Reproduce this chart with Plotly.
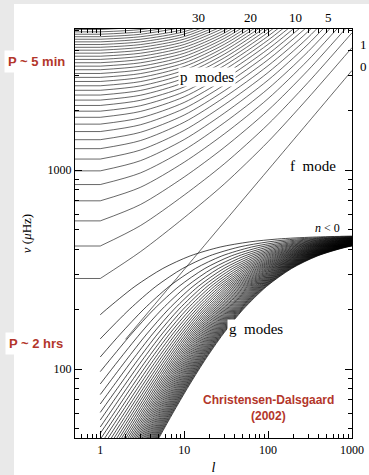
import plotly.graph_objects as go

N = None
# ---------------- data (read/estimated from the reference) ----------------
# p modes: frequency (muHz) at these degrees l (0.5 = left edge, same value as l=1)
P_L = [0.5, 1, 3, 10, 30, 100, 300, 1000]
P_MODES = [
    [285, 285, 388, 576, 850, 1387, 2299, 4118],
    [415, 415, 525, 748, 1073, 1696, 2754, 4889],
    [555, 555, 670, 922, 1298, 1995, 3172, 5577],
    [700, 700, 818, 1094, 1517, 2283, 3566, 6204],
    [845, 845, 966, 1260, 1727, 2560, 3935, 6780],
    [990, 990, 1113, 1422, 1929, 2828, 4291, 7328],
    [1135, 1135, 1259, 1581, 2125, 3089, 4634, 7900],
    [1280, 1280, 1405, 1738, 2316, 3342, 4966, 8400],
    [1420, 1420, 1546, 1888, 2497, 3583, 5283],
    [1560, 1560, 1687, 2037, 2674, 3820, 5594],
    [1700, 1700, 1827, 2185, 2848, 4050, 5896],
    [1840, 1840, 1968, 2332, 3019, 4278, 6200],
    [1975, 1975, 2103, 2473, 3182, 4493, 6500],
    [2110, 2110, 2239, 2614, 3343, 4706, 6800],
    [2245, 2245, 2374, 2754, 3502, 4915, 7100],
    [2380, 2380, 2509, 2893, 3660, 5121, 7300],
    [2515, 2515, 2645, 3032, 3815, 5324, 7500],
    [2650, 2650, 2780, 3171, 3971, 5524, 7700],
    [2785, 2785, 2915, 3309, 4124, 5724, 7900],
    [2920, 2920, 3050, 3447, 4276, 5900],
    [3055, 3055, 3186, 3585, 4428, 6100],
    [3190, 3190, 3321, 3723, 4579, 6300],
    [3325, 3325, 3456, 3861, 4729, 6500],
    [3460, 3460, 3591, 3997, 4877, 6700],
    [3595, 3595, 3726, 4135, 5025, 6800],
    [3730, 3730, 3861, 4272, 5173],
    [3865, 3865, 3997, 4409, 5320],
    [4000, 4000, 4132, 4546, 5466],
    [4135, 4135, 4267, 4683, 5612],
    [4270, 4270, 4402, 4819, 5758],
    [4405, 4405, 4537, 4956, 5900],
    [4540, 4540, 4672, 5092, 6050],
    [4675, 4675, 4807, 5229],
    [4810, 4810, 4943, 5365],
    [4945, 4945, 5077, 5500],
    [5080, 5080, 5212],
]
# f mode
F_L = [2, 3, 10, 30, 100, 300, 1000]
F_NU = [141, 173, 316, 548, 1000, 1732, 3162]

# g modes (n = 1..47): degree l at which each mode reaches these frequencies
G_LEVELS = [44, 60, 80, 110, 150, 200, 260, 320, 370, 410, 435, 450, 460, 465, 467]
G_LEVEL_L = [
    [N, N, N, N, N, 1.195, 2.588, 5.571, 11.79, 26.83, 59.56, 130.4, 340.2, 868.9, 1726.9],
    [N, N, N, N, 1.138, 2.245, 4.603, 9.597, 19.97, 45.04, 99.6, 217.6, 567.3, 1448.5],
    [N, N, N, N, 1.740, 3.312, 6.627, 13.63, 28.16, 63.26, 139.6, 304.9, 794.4, 2028.1],
    [N, N, N, 1.275, 2.351, 4.385, 8.655, 17.66, 36.34, 81.48, 179.7, 392.1, 1021.5],
    [N, N, N, 1.640, 2.967, 5.460, 10.68, 21.69, 44.53, 99.7, 219.7, 479.4, 1248.6],
    [N, N, 1.138, 2.010, 3.585, 6.536, 12.71, 25.72, 52.72, 117.9, 259.8, 566.6, 1475.7],
    [N, N, 1.368, 2.382, 4.205, 7.614, 14.74, 29.75, 60.91, 136.1, 299.8, 653.9, 1702.8],
    [N, N, 1.601, 2.755, 4.826, 8.692, 16.77, 33.79, 69.09, 154.3, 339.8, 741.1, 1929.9],
    [N, 1.141, 1.834, 3.129, 5.447, 9.770, 18.80, 37.82, 77.28, 172.6, 379.9, 828.4, 2157.0],
    [N, 1.298, 2.069, 3.504, 6.069, 10.85, 20.83, 41.86, 85.47, 190.8, 419.9, 915.6, 2384.1],
    [N, 1.457, 2.305, 3.880, 6.691, 11.93, 22.86, 45.89, 93.66, 209.0, 460.0, 1002.9],
    [N, 1.616, 2.542, 4.256, 7.313, 13.01, 24.89, 49.92, 101.8, 227.2, 500.0, 1090.1],
    [1.094, 1.776, 2.779, 4.632, 7.936, 14.09, 26.92, 53.96, 110.0, 245.4, 540.0, 1177.4],
    [1.201, 1.937, 3.016, 5.009, 8.558, 15.16, 28.96, 57.99, 118.2, 263.6, 580.1, 1264.6],
    [1.309, 2.098, 3.254, 5.386, 9.181, 16.24, 30.99, 62.03, 126.4, 281.9, 620.1, 1351.9],
    [1.416, 2.260, 3.492, 5.763, 9.804, 17.32, 33.02, 66.06, 134.6, 300.1, 660.2, 1439.1],
    [1.525, 2.422, 3.730, 6.140, 10.43, 18.40, 35.05, 70.09, 142.8, 318.3, 700.2, 1526.4],
    [1.634, 2.584, 3.968, 6.518, 11.05, 19.48, 37.08, 74.13, 151.0, 336.5, 740.2, 1613.6],
    [1.743, 2.746, 4.207, 6.895, 11.67, 20.56, 39.11, 78.16, 159.2, 354.7, 780.3, 1700.9],
    [1.852, 2.909, 4.446, 7.273, 12.30, 21.64, 41.14, 82.19, 167.3, 372.9, 820.3, 1788.1],
    [1.962, 3.072, 4.685, 7.650, 12.92, 22.72, 43.18, 86.23, 175.5, 391.2, 860.4, 1875.4],
    [2.072, 3.235, 4.924, 8.028, 13.54, 23.80, 45.21, 90.26, 183.7, 409.4, 900.4, 1962.6],
    [2.182, 3.398, 5.163, 8.406, 14.17, 24.88, 47.24, 94.30, 191.9, 427.6, 940.4, 2049.9],
    [2.292, 3.561, 5.402, 8.784, 14.79, 25.96, 49.27, 98.33, 200.1, 445.8, 980.5, 2137.1],
    [2.403, 3.724, 5.641, 9.161, 15.41, 27.04, 51.30, 102.4, 208.3, 464.0, 1020.5],
    [2.513, 3.887, 5.880, 9.539, 16.04, 28.12, 53.33, 106.4, 216.5, 482.3, 1060.6],
    [2.624, 4.051, 6.119, 9.917, 16.66, 29.20, 55.36, 110.4, 224.7, 500.5, 1100.6],
    [2.735, 4.214, 6.359, 10.30, 17.28, 30.27, 57.40, 114.5, 232.8, 518.7, 1140.6],
    [2.846, 4.378, 6.598, 10.67, 17.90, 31.35, 59.43, 118.5, 241.0, 536.9, 1180.7],
    [2.957, 4.541, 6.838, 11.05, 18.53, 32.43, 61.46, 122.5, 249.2, 555.1, 1220.7],
    [3.067, 4.705, 7.077, 11.43, 19.16, 33.51, 63.49, 126.6, 257.4, 573.3, 1260.8],
    [3.178, 4.869, 7.316, 11.81, 19.78, 34.59, 65.52, 130.6, 265.6, 591.6, 1300.8],
    [3.290, 5.033, 7.556, 12.18, 20.40, 35.67, 67.55, 134.6, 273.8, 609.8, 1340.8],
    [3.401, 5.196, 7.796, 12.55, 21.02, 36.75, 69.58, 138.7, 282.0, 628.0, 1380.9],
    [3.512, 5.360, 8.035, 12.93, 21.64, 37.83, 71.62, 142.7, 290.2, 646.2, 1420.9],
    [3.623, 5.524, 8.275, 13.32, 22.27, 38.91, 73.65, 146.7, 298.3, 664.4, 1461.0],
    [3.735, 5.688, 8.515, 13.70, 22.90, 39.99, 75.68, 150.8, 306.5, 682.6, 1501.0],
    [3.846, 5.852, 8.754, 14.07, 23.52, 41.07, 77.71, 154.8, 314.7, 700.9, 1541.0],
    [3.957, 6.016, 8.994, 14.45, 24.14, 42.15, 79.74, 158.8, 322.9, 719.1, 1581.1],
    [4.069, 6.180, 9.234, 14.83, 24.76, 43.23, 81.77, 162.9, 331.1, 737.3, 1621.1],
    [4.180, 6.344, 9.473, 15.21, 25.39, 44.31, 83.80, 166.9, 339.3, 755.5, 1661.2],
    [4.292, 6.508, 9.713, 15.58, 26.01, 45.39, 85.83, 170.9, 347.5, 773.7, 1701.2],
    [4.403, 6.672, 9.953, 15.96, 26.63, 46.47, 87.87, 175.0, 355.7, 791.9, 1741.2],
    [4.515, 6.836, 10.19, 16.34, 27.26, 47.55, 89.90, 179.0, 363.8, 810.2, 1781.3],
    [4.626, 7.000, 10.43, 16.72, 27.88, 48.63, 91.93, 183.0, 372.0, 828.4, 1821.3],
    [4.738, 7.164, 10.67, 17.10, 28.51, 49.71, 93.96, 187.1, 380.2, 846.6, 1861.4],
    [4.849, 7.328, 10.91, 17.47, 29.13, 50.79, 95.99, 191.1, 388.4, 864.8, 1901.4],
]
# frequency at l = 1 for the g modes that start inside the frame (n = 1..12)
G_START = [187.3, 141.7, 114.9, 97.0, 84.1, 74.4, 66.7, 60.5, 55.4, 51.1, 47.5, 44.3]

X_TICKS = [1, 10, 100, 1000]
X_MINOR = [0.6, 0.7, 0.8, 0.9, 2, 3, 4, 5, 6, 7, 8, 9, 20, 30, 40, 50, 60, 70, 80, 90,
           200, 300, 400, 500, 600, 700, 800, 900]
Y_TICKS = [100, 1000]
Y_MINOR = [50, 60, 70, 80, 90, 200, 300, 400, 500, 600, 700, 800, 900, 2000, 3000, 4000, 5000]
TOP_LABELS = ["30", "20", "10", "5"]
RIGHT_LABELS = ["1", "0"]

# ---------------- figure ----------------
W, H = 369, 475
ML, MR, MT, MB = 75, 17, 29, 37
PW, PH = W - ML - MR, H - MT - MB


def px(xp):
    return (xp - ML) / PW


def py(yp):
    return (H - MB - yp) / PH


LINE = dict(color="#151515", width=0.65)
SPL = dict(LINE, shape="spline", smoothing=0.8)
GSPL = dict(color="black", width=0.7, shape="spline", smoothing=0.8)
fig = go.Figure()

# g modes
for i, row in enumerate(G_LEVEL_L):
    xs, ys = [], []
    if i < len(G_START):
        xs.append(1)
        ys.append(G_START[i])
    for lv, nu in zip(row, G_LEVELS):
        if lv is not None:
            xs.append(lv)
            ys.append(nu)
    fig.add_trace(go.Scatter(x=xs, y=ys, mode="lines", line=GSPL, hoverinfo="skip", showlegend=False))

# horizontal l=0..1 parts of the p modes (one trace with gaps)
hx, hy = [], []
for row in P_MODES:
    hx += [P_L[0], P_L[1], None]
    hy += [row[0], row[1], None]
fig.add_trace(go.Scatter(x=hx, y=hy, mode="lines", line=LINE, hoverinfo="skip", showlegend=False))

for row in P_MODES:
    fig.add_trace(go.Scatter(x=P_L[1:len(row)], y=row[1:], mode="lines", line=SPL,
                             hoverinfo="skip", showlegend=False))
fig.add_trace(go.Scatter(x=F_L, y=F_NU, mode="lines", line=SPL, hoverinfo="skip", showlegend=False))

SERIF = "Liberation Serif"
axis_common = dict(type="log", showline=True, linecolor="black", linewidth=1.3, mirror="ticks",
                   ticks="inside", ticklen=7, tickwidth=1, tickcolor="black", showgrid=False,
                   zeroline=False, automargin=False,
                   tickfont=dict(family=SERIF, size=12, color="black"))
fig.update_layout(
    width=W, height=H,
    margin=dict(l=ML, r=MR, t=MT, b=MB, pad=0),
    paper_bgcolor="white", plot_bgcolor="white",
    xaxis=dict(axis_common, range=[-0.30103, 3.0003], tickvals=X_TICKS, ticktext=[str(v) for v in X_TICKS],
               minor=dict(tickvals=X_MINOR, ticks="inside", ticklen=4, tickcolor="black"),
               title=dict(text="<i>l</i>", font=dict(family=SERIF, size=14, color="black"), standoff=6)),
    yaxis=dict(axis_common, range=[1.6533, 3.7085], tickvals=Y_TICKS, ticktext=[str(v) for v in Y_TICKS],
               minor=dict(tickvals=Y_MINOR, ticks="inside", ticklen=4, tickcolor="black"),
               title=dict(text="<i>ν</i> (<i>μ</i>Hz)", font=dict(family=SERIF, size=13, color="black"), standoff=12)),
    showlegend=False,
)

# slide background strips
GRAY = "#e9e9e9"
fig.add_shape(type="rect", xref="paper", yref="paper", x0=px(0), x1=px(14), y0=py(H), y1=py(0),
              fillcolor=GRAY, line_width=0, layer="below")
fig.add_shape(type="rect", xref="paper", yref="paper", x0=px(0), x1=px(W), y0=py(4), y1=py(0),
              fillcolor=GRAY, line_width=0, layer="below")


def note(text, xp, yp, font, **kw):
    return dict(text=text, x=px(xp), y=py(yp), xref="paper", yref="paper", showarrow=False,
                xanchor="center", yanchor="middle", font=font, **kw)


ann = []
for t, xp in zip(TOP_LABELS, [198, 250, 295, 328]):
    ann.append(note(t, xp, 18, dict(family=SERIF, size=13, color="black")))
for t, yp in zip(RIGHT_LABELS, [45, 66]):
    ann.append(note(t, 363, yp, dict(family=SERIF, size=13, color="black")))
for t, xp, yp in [("p  modes", 207, 77), ("f  mode", 313, 166), ("g  modes", 256, 329)]:
    ann.append(note(t, xp, yp, dict(family=SERIF, size=15, color="black"), bgcolor="white", borderpad=1))
ann.append(note("<i>n</i> &lt; 0", 327, 228, dict(family=SERIF, size=12, color="black"),
                bgcolor="white", borderpad=0))
RED = "#b3362a"
for t, xp, yp in [("P ~ 5 min", 36, 61), ("P ~ 2 hrs", 36, 343)]:
    ann.append(note("<b>" + t + "</b>", xp, yp, dict(family="Liberation Sans", size=13, color=RED),
                    bgcolor="white", borderpad=3))
ann.append(note("<b>Christensen-Dalsgaard</b>", 268, 400, dict(family="Liberation Sans", size=12, color=RED)))
ann.append(note("<b>(2002)</b>", 268, 416, dict(family="Liberation Sans", size=12, color=RED)))
fig.update_layout(annotations=ann)

fig.write_html("out.html")
